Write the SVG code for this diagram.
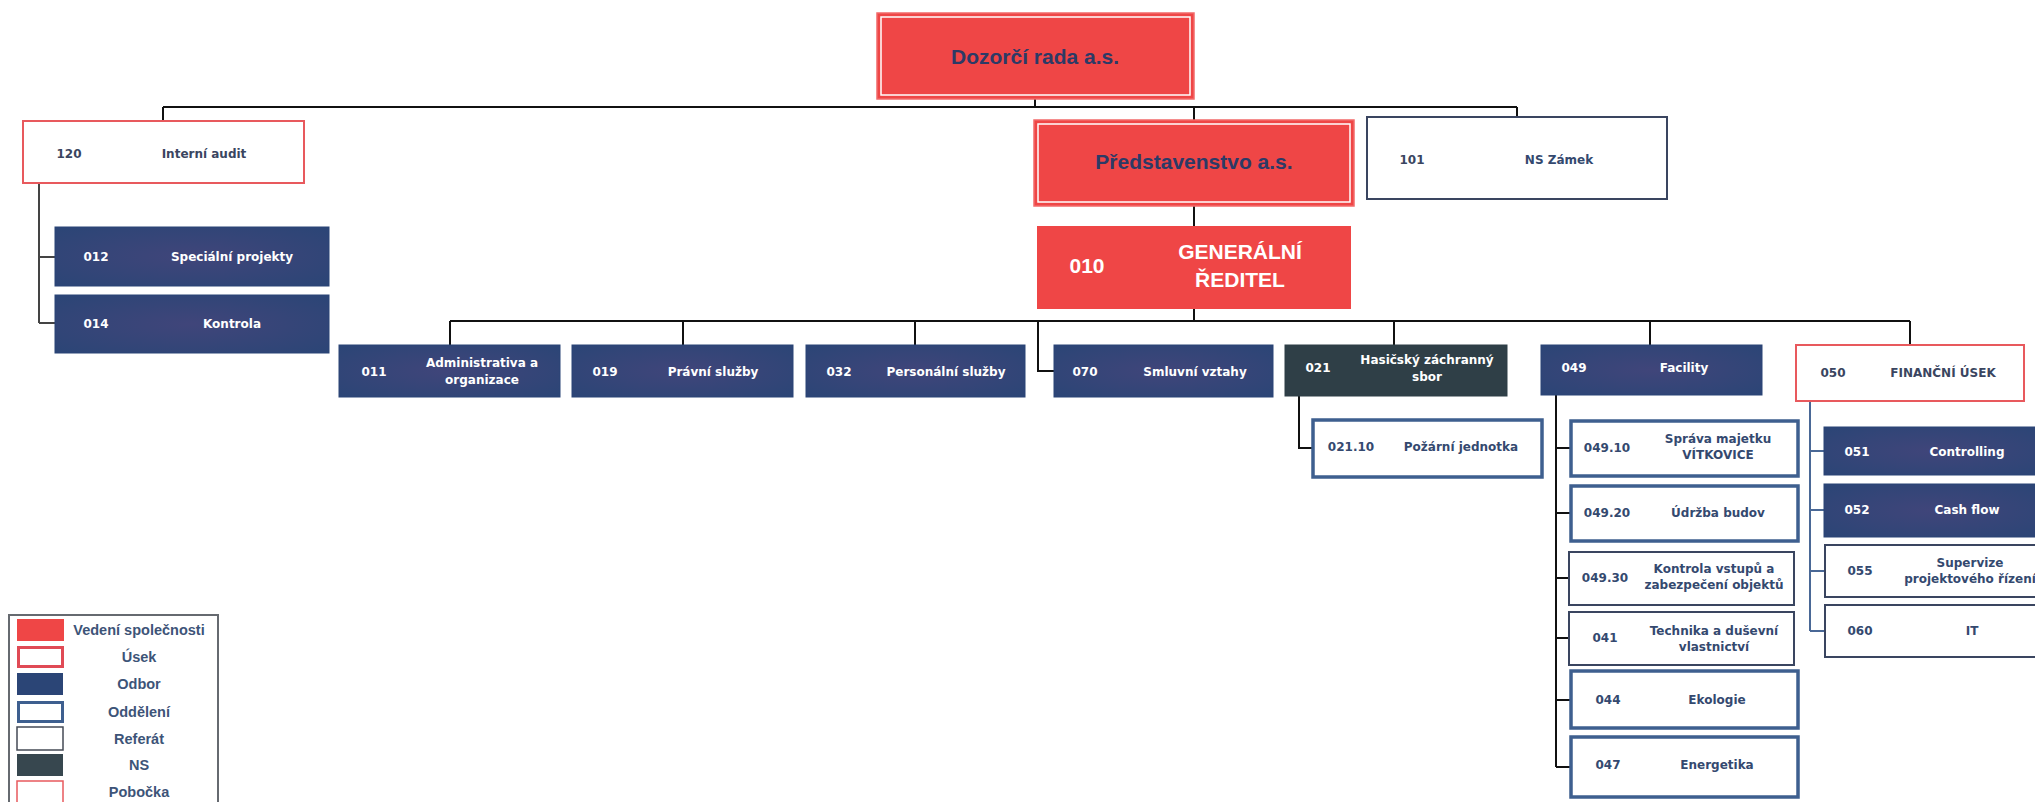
<svg xmlns="http://www.w3.org/2000/svg" width="2035" height="802" viewBox="0 0 2035 802">
<defs>
<radialGradient id="navy" cx="50%" cy="50%" r="70%">
<stop offset="0" stop-color="#40457a"/>
<stop offset="1" stop-color="#2b4576"/>
</radialGradient>
<style>
.red{fill:#ef4646;stroke:#f26a6a;stroke-width:1.5}
.inset{fill:none;stroke:#ffffff;stroke-width:1.5}
.odbor{fill:url(#navy);stroke:#2b4576;stroke-width:1}
.ns{fill:#2f3f47;stroke:#2f3f47;stroke-width:1}
.usek{fill:#ffffff;stroke:#e8595d;stroke-width:2}
.odd{fill:#ffffff;stroke:#3e5f8f;stroke-width:3.5}
.ref{fill:#ffffff;stroke:#3a4560;stroke-width:2}
.big{font-family:"Liberation Sans",Arial,sans-serif;font-weight:bold;font-size:21px;fill:#2c3a66;text-anchor:middle}
.gr{font-family:"Liberation Sans",Arial,sans-serif;font-weight:bold;font-size:21px;fill:#ffffff;text-anchor:middle}
.t{font-family:"DejaVu Sans",Verdana,sans-serif;font-weight:bold;font-size:12px;text-anchor:middle}
.w{fill:#ffffff}
.b{fill:#34496f}
.d{fill:#3a4560}
.lg{font-family:"Liberation Sans",Arial,sans-serif;font-weight:bold;font-size:14.5px;fill:#3d5478;text-anchor:middle}
.con{fill:none;stroke:#111111;stroke-width:2}
.conb{fill:none;stroke:#4a6896;stroke-width:2}
.cong{fill:none;stroke:#444444;stroke-width:2}
</style>
</defs>
<rect width="2035" height="802" fill="#ffffff"/>

<g id="connectors">
<path class="con" d="M1035,99 V107 M163,107 H1517 M163,107 V121 M1194,107 V120 M1517,107 V117"/>
<path class="con" d="M1194,206 V226 M1194,309 V321"/>
<path class="con" d="M450,321 H1910 M450,321 V345 M683,321 V345 M915,321 V345 M1394,321 V345 M1650,321 V345 M1910,321 V345"/>
<path class="con" d="M1038,321 V371 H1054"/>
<path class="cong" d="M39,183 V323 M39,257 H55 M39,323 H55"/>
<path class="con" d="M1299,396 V448 H1313"/>
<path class="con" d="M1556,395 V767 M1556,448 H1571 M1556,513 H1571 M1556,578 H1569 M1556,638 H1569 M1556,700 H1571 M1556,767 H1571"/>
<path class="conb" d="M1810,401 V631 M1810,451 H1824 M1810,510 H1824 M1810,571 H1825 M1810,631 H1825"/>
</g>

<g id="dozorci-rada">
<rect class="red" x="877" y="13" width="317" height="86"/>
<rect class="inset" x="881" y="17" width="309" height="78"/>
<text class="big" x="1035" y="64">Dozorčí rada a.s.</text>
</g>

<g id="predstavenstvo">
<rect class="red" x="1034" y="120" width="320" height="86"/>
<rect class="inset" x="1038" y="124" width="312" height="78"/>
<text class="big" x="1194" y="169" font-size="22">Představenstvo a.s.</text>
</g>

<g id="ns-zamek">
<rect class="ref" x="1367" y="117" width="300" height="82"/>
<text class="t d" x="1412" y="164">101</text>
<text class="t b" x="1559" y="164" fill="#3e5f8f">NS Zámek</text>
</g>

<g id="interni-audit">
<rect class="usek" x="23" y="121" width="281" height="62"/>
<text class="t d" x="69" y="158">120</text>
<text class="t d" x="204" y="158">Interní audit</text>
</g>

<g id="n012">
<rect class="odbor" x="55" y="227" width="274" height="59"/>
<text class="t w" x="96" y="261">012</text>
<text class="t w" x="232" y="261">Speciální projekty</text>
</g>

<g id="n014">
<rect class="odbor" x="55" y="295" width="274" height="58"/>
<text class="t w" x="96" y="328">014</text>
<text class="t w" x="232" y="328">Kontrola</text>
</g>

<g id="generalni-reditel">
<rect x="1037" y="226" width="314" height="83" fill="#ef4646"/>
<text class="gr" x="1087" y="273">010</text>
<text class="gr" x="1240" y="259">GENERÁLNÍ</text>
<text class="gr" x="1240" y="287">ŘEDITEL</text>
</g>

<g id="n011">
<rect class="odbor" x="339" y="345" width="221" height="52"/>
<text class="t w" x="374" y="376">011</text>
<text class="t w" x="482" y="367">Administrativa a</text>
<text class="t w" x="482" y="384">organizace</text>
</g>

<g id="n019">
<rect class="odbor" x="572" y="345" width="221" height="52"/>
<text class="t w" x="605" y="376">019</text>
<text class="t w" x="713" y="376">Právní služby</text>
</g>

<g id="n032">
<rect class="odbor" x="806" y="345" width="219" height="52"/>
<text class="t w" x="839" y="376">032</text>
<text class="t w" x="946" y="376">Personální služby</text>
</g>

<g id="n070">
<rect class="odbor" x="1054" y="345" width="219" height="52"/>
<text class="t w" x="1085" y="376">070</text>
<text class="t w" x="1195" y="376">Smluvní vztahy</text>
</g>

<g id="n021">
<rect class="ns" x="1285" y="345" width="222" height="51"/>
<text class="t w" x="1318" y="372">021</text>
<text class="t w" x="1427" y="364">Hasičský záchranný</text>
<text class="t w" x="1427" y="381">sbor</text>
</g>

<g id="n049">
<rect class="odbor" x="1541" y="345" width="221" height="50"/>
<text class="t w" x="1574" y="372">049</text>
<text class="t w" x="1684" y="372">Facility</text>
</g>

<g id="n050">
<rect class="usek" x="1796" y="345" width="228" height="56"/>
<text class="t d" x="1833" y="377">050</text>
<text class="t d" x="1943" y="377">FINANČNÍ ÚSEK</text>
</g>

<g id="n021-10">
<rect class="odd" x="1313" y="420" width="229" height="57"/>
<text class="t b" x="1351" y="451">021.10</text>
<text class="t b" x="1461" y="451">Požární jednotka</text>
</g>

<g id="n049-10">
<rect class="odd" x="1571" y="421" width="227" height="55"/>
<text class="t b" x="1607" y="452">049.10</text>
<text class="t b" x="1718" y="443">Správa majetku</text>
<text class="t b" x="1718" y="459">VÍTKOVICE</text>
</g>

<g id="n049-20">
<rect class="odd" x="1571" y="486" width="227" height="55"/>
<text class="t b" x="1607" y="517">049.20</text>
<text class="t b" x="1718" y="517">Údržba budov</text>
</g>

<g id="n049-30">
<rect class="ref" x="1569" y="552" width="225" height="53"/>
<text class="t b" x="1605" y="582">049.30</text>
<text class="t b" x="1714" y="573">Kontrola vstupů a</text>
<text class="t b" x="1714" y="589">zabezpečení objektů</text>
</g>

<g id="n041">
<rect class="ref" x="1569" y="612" width="225" height="53"/>
<text class="t b" x="1605" y="642">041</text>
<text class="t b" x="1714" y="635">Technika a duševní</text>
<text class="t b" x="1714" y="651">vlastnictví</text>
</g>

<g id="n044">
<rect class="odd" x="1571" y="671" width="227" height="57"/>
<text class="t b" x="1608" y="704">044</text>
<text class="t b" x="1717" y="704">Ekologie</text>
</g>

<g id="n047">
<rect class="odd" x="1571" y="737" width="227" height="60"/>
<text class="t b" x="1608" y="769">047</text>
<text class="t b" x="1717" y="769">Energetika</text>
</g>

<g id="n051">
<rect class="odbor" x="1824" y="427" width="220" height="48"/>
<text class="t w" x="1857" y="456">051</text>
<text class="t w" x="1967" y="456">Controlling</text>
</g>

<g id="n052">
<rect class="odbor" x="1824" y="484" width="220" height="53"/>
<text class="t w" x="1857" y="514">052</text>
<text class="t w" x="1967" y="514">Cash flow</text>
</g>

<g id="n055">
<rect class="ref" x="1825" y="545" width="220" height="52"/>
<text class="t b" x="1860" y="575">055</text>
<text class="t b" x="1970" y="567">Supervize</text>
<text class="t b" x="1970" y="583">projektového řízení</text>
</g>

<g id="n060">
<rect class="ref" x="1825" y="605" width="220" height="52"/>
<text class="t b" x="1860" y="635">060</text>
<text class="t b" x="1972" y="635">IT</text>
</g>

<g id="legend">
<rect x="9" y="615" width="209" height="200" fill="#ffffff" stroke="#666a70" stroke-width="2"/>
<rect x="17" y="619" width="47" height="22" fill="#ef4646"/>
<text class="lg" x="139" y="635">Vedení společnosti</text>
<rect x="18.5" y="647.5" width="44" height="19" fill="#ffffff" stroke="#e04a55" stroke-width="3"/>
<text class="lg" x="139" y="662">Úsek</text>
<rect x="17" y="673" width="46" height="22" fill="#2b4576"/>
<text class="lg" x="139" y="689">Odbor</text>
<rect x="18.5" y="702.5" width="44" height="19" fill="#ffffff" stroke="#3e5f8f" stroke-width="3"/>
<text class="lg" x="139" y="717">Oddělení</text>
<rect x="17" y="727" width="46" height="23" fill="#ffffff" stroke="#444a55" stroke-width="1.5"/>
<text class="lg" x="139" y="744">Referát</text>
<rect x="17" y="754" width="46" height="22" fill="#37474f"/>
<text class="lg" x="139" y="770">NS</text>
<rect x="17" y="781" width="46" height="24" fill="#ffffff" stroke="#e8595d" stroke-width="1.5"/>
<text class="lg" x="139" y="797">Pobočka</text>
</g>
</svg>
